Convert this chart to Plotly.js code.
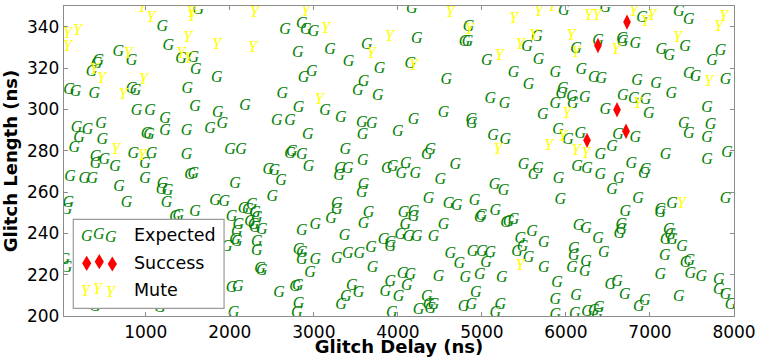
<!DOCTYPE html>
<html>
<head>
<meta charset="utf-8">
<script src="https://cdn.plot.ly/plotly-3.0.1.min.js"></script>
<style>html,body{margin:0;padding:0;background:#fff;}#chart{width:761px;height:357px;}</style>
</head>
<body>
<div id="chart"></div>
<script>
// Expected (G) points
const expectedDelay = [1197,1626,1268,673,832,435,414,355,1420,1566,1594,1844,86,164,387,832,879,1495,891,1050,1586,2182,1856,1911,1229,176,307,467,205,149,482,1010,1040,1229,1486,1765,2003,2134,852,1070,991,403,506,403,1486,634,
4166,2658,2856,2904,2995,4225,4841,4794,4830,2809,3194,3630,3412,3781,4147,5059,2876,2975,3590,3523,3761,4575,2626,2817,3134,3321,2558,2718,3571,3690,4186,4544,5100,5270,4873,4881,2928,3579,3999,5131,5278,2718,2856,2737,3373,3583,4385,4345,4683,2459,2530,2936,3313,3404,3868,3936,4095,
5973,6469,6905,7342,7461,5655,5536,6119,6381,6667,6675,6826,7136,7231,7418,7839,7739,5675,5377,5874,6183,6330,6422,5556,6846,7072,7461,7541,7899,5961,5946,6072,6223,5874,6080,6675,6806,6946,7255,5723,6469,6985,7679,5905,6024,6171,6620,6826,6548,6410,7402,7720,7461,7679,7184,7918,7679,5496,5667,6131,6251,6779,6946,
98,268,363,991,1200,1189,1260,681,1527,1566,2063,77,57,772,1248,1824,1935,1586,1348,1387,2022,2162,2261,2213,2301,2102,2241,2301,2082,2063,2082,1963,1864,2320,30,57,2022,2094,2043,395,1169,
2610,3301,4040,4207,4504,3590,3571,2507,4365,4603,4702,4913,5151,5258,3273,3273,3206,2320,2281,2380,2856,3016,3650,3590,4067,4186,4186,4087,4028,4127,4226,4425,4544,4976,4995,5159,5286,3365,3829,3909,3909,2320,2817,2856,2856,3016,3273,3404,3540,3682,2956,2360,2380,3698,4623,4730,4889,4999,5100,5048,4976,4802,4928,4782,4873,4484,5238,4055,4147,3909,4107,3849,4008,2777,2809,2587,3452,3531,3380,3325,2817,2797,3928,4345,4365,4425,4246,4385,5218,5159,
5615,5913,6410,6628,6548,6926,5934,6858,6707,7124,7124,7263,7899,5318,5377,5457,5596,5484,5417,5556,5735,5735,6151,6239,6381,6659,6659,6636,6092,6092,6239,6223,6072,6449,5893,5874,5874,6119,6104,6251,6330,6390,6369,6529,6608,6699,6866,6938,7223,7243,7263,7184,7382,7176,7422,7469,7481,7612,7124,7342,7819,7819,7899,7958];
const expectedLength = [340,348,330.7,327.8,323.3,323.6,322,318,324.5,325,319.2,315.3,309.5,308.3,307.5,310,309,310,299.2,299.2,301.2,301.4,298,292.7,295.5,291,290.2,292.7,285.9,281.5,285,287.9,287.5,289.4,289.4,290.7,280.5,280.2,278.2,278.6,273.7,276.9,275.7,273.7,277.8,272.1,
348.6,338.4,341.3,338.4,337.6,334.1,340,332.5,332.5,327.2,328.8,331.3,322.8,319.6,321.7,323.3,315.3,318,313.2,308.8,306.3,314.3,307.6,300.8,299.2,296,294.3,294.3,293.4,292.7,294.7,298.2,304.8,302.4,295,293,287.4,287.4,289,286.9,285,278.6,277.8,279.4,280.5,274.9,280.5,277.8,273.3,270.5,270,272.1,271.3,270.9,271.3,272.1,273.7,
347.6,349,344.3,347,343.3,335.2,330,329.3,333.3,334.1,332.5,331.6,328.8,325.6,330,328.1,323.2,324,317.5,317.5,319.2,315.3,314.5,311.6,313.5,312.4,316.9,315.6,314.3,310,307.5,305.9,305.6,302.7,302.7,306.3,305.2,304.7,307.2,297.1,299.5,297.6,300.8,290.2,285,288.3,287.4,285.9,281.8,277.8,293,292.3,287.9,286.3,277.8,278.9,275.7,273.3,271.3,272.1,271.3,273.7,270.5,
267.3,266.5,266.5,266.5,263.8,260.9,260.5,262.2,268.1,268.6,264.1,254.7,251.2,254.7,254.7,255.7,255.2,250.3,247.7,248.3,247.7,252,253.6,251.2,249.6,244,245.5,242.4,240.7,236.7,235.9,233.5,227.9,235.9,227,223,213.4,213.9,201.6,204.5,203.7,
265.4,267.6,268.9,268.9,265.7,263.3,259.3,257.6,256.8,254.4,253.1,255.7,263.3,260.5,254.4,251.2,246.7,247.3,244,241.5,241.2,244,249.6,244.7,249.6,250.4,247.7,244,239.1,238,238,238,244,247.2,248.3,250.9,244.8,238.6,237,235.4,233.2,231.5,231.9,230.6,227,227,227.4,230,230,232.7,220.9,222.6,221.8,223,230,225.1,231.1,231.1,230.6,225.5,219.8,218.2,211,204.5,205.3,219,218.2,220.3,219.8,216.6,214.5,211.7,209,214.2,214.5,211,214.5,211,209.3,205.3,205.8,201.3,201.6,209.3,205.3,205.3,202.9,203.5,205.3,201.6,
268.1,266.5,268.1,266.5,260.9,268.9,256.3,256.8,250.3,251.2,249.9,254.4,256.8,245.5,246.4,237.5,240.7,233.5,231.1,228.3,235.1,223,243.7,241.9,237.5,244,241.5,239.6,232.2,229,226.2,221.4,223,230.3,216.1,207.7,200.5,209.7,201,202,202.6,203.7,200.5,215,216.6,210.2,204.5,207.4,241.5,239.1,236.7,236.7,233.2,229,225.7,226.7,220.3,218.7,219.8,209.3,217.4,212.6,210.1,205.3];

// Mute (Y) points
const muteDelay = [959,1062,1542,1550,2293,69,188,69,1498,1844,2272,792,387,474,1420,1507,971,732,641,959,2904,4623,3142,3900,4850,3682,4186,5207,3063,5190,5377,5675,5834,6271,6369,6806,6946,7025,7878,7819,5615,5457,6064,6119,6596,7330,7700,6858,6012,5961,5794,6119,6239,7374,5457];
const muteLength = [349,344.3,346.8,344.6,346.5,336.5,338,330,334.4,331.2,329.8,326.9,319.2,314.8,326.9,324.5,314,306.8,280.5,277.4,347,346.5,338.9,335.2,338.4,326.9,321.2,325.6,304.7,280.5,343.8,347,349.5,345.3,345.3,347,342.2,345.3,344.9,340,335.7,330.9,335.7,327.2,328.5,334.6,313.2,302.7,297.6,286.6,282.3,279.8,278.6,254.1,224.2];

// Success (red diamonds)
const successDelay = [6727,6381,6608,6251,6715];
const successLength = [342.2,330.9,299.8,285,289.4];

const xTicks = [1000,2000,3000,4000,5000,6000,7000,8000];
const yTicks = [200,220,240,260,280,300,320,340];
const legendLabels = ['Expected','Success','Mute'];

const glyphFont = {family:'Liberation Serif', style:'italic', size:16};

const traces = [
  {x: expectedDelay, y: expectedLength, mode:'text', type:'scatter', text: expectedDelay.map(()=> 'G'),
   textposition:'middle center', textfont: Object.assign({}, glyphFont, {color:'#008000'}), hoverinfo:'skip', cliponaxis:true, showlegend:false},
  {x: successDelay, y: successLength, mode:'markers', type:'scatter',
   marker:{symbol:'diamond-tall', size:11, color:'#ff0000', line:{width:0}}, hoverinfo:'skip', showlegend:false},
  {x: muteDelay, y: muteLength, mode:'text', type:'scatter', text: muteDelay.map(()=> 'Y'),
   textposition:'middle center', textfont: Object.assign({}, glyphFont, {color:'#ffff00'}), hoverinfo:'skip', cliponaxis:true, showlegend:false}
];

// manual legend (paper coords)
const L = 64, R = 733.7, T = 6, B = 316;
const px = v => (v - L) / (R - L);
const py = v => (B - v) / (B - T);
const shapes = [
  {type:'rect', xref:'paper', yref:'paper', x0:px(73.3), x1:px(224), y0:py(308.3), y1:py(219.3),
   fillcolor:'#ffffff', line:{color:'#9a9a9a', width:1.2}, layer:'above'}
];
const dia = [[86.7,263.3],[99.3,261.7],[112.3,264]];
dia.forEach(([cx,cy])=>{
  const hw = 4.6, hh = 7.6;
  shapes.push({type:'path', xref:'paper', yref:'paper', layer:'above',
    path:`M ${px(cx)},${py(cy-hh)} L ${px(cx+hw)},${py(cy)} L ${px(cx)},${py(cy+hh)} L ${px(cx-hw)},${py(cy)} Z`,
    fillcolor:'#ff0000', line:{width:0}});
});
const annotations = [];
[[86.7,235],[99.3,233.3],[111,236]].forEach(([cx,cy])=>annotations.push({xref:'paper',yref:'paper',x:px(cx),y:py(cy),text:'G',showarrow:false,xanchor:'center',yanchor:'middle',font:Object.assign({},glyphFont,{color:'#008000'})}));
[[86,290],[98.3,288.3],[111.7,291.7]].forEach(([cx,cy])=>annotations.push({xref:'paper',yref:'paper',x:px(cx),y:py(cy),text:'Y',showarrow:false,xanchor:'center',yanchor:'middle',font:Object.assign({},glyphFont,{color:'#ffff00'})}));
[[235],[263.3],[290]].forEach(([cy],i)=>annotations.push({xref:'paper',yref:'paper',x:px(131.5),y:py(cy),text:legendLabels[i],showarrow:false,xanchor:'left',yanchor:'middle',font:{family:'DejaVu Sans',size:17.5,color:'#000'}}));

const axisCommon = {showgrid:false, zeroline:false, showline:true, linecolor:'#8c8c8c', linewidth:1.2, mirror:'ticks',
  ticks:'inside', ticklen:4, tickcolor:'#8c8c8c', tickwidth:1, tickfont:{family:'DejaVu Sans', size:17, color:'#000'}};

const layout = {
  width:761, height:357, margin:{l:64, r:27, t:6, b:41, pad:0},
  paper_bgcolor:'#fff', plot_bgcolor:'#fff', showlegend:false,
  xaxis: Object.assign({}, axisCommon, {range:[27,8000], tickvals:xTicks, ticktext:xTicks.map(String),
    title:{text:'<b>Glitch Delay (ns)</b>', font:{family:'DejaVu Sans', size:18, color:'#000'}, standoff:2}}),
  yaxis: Object.assign({}, axisCommon, {range:[200,350], tickvals:yTicks, ticktext:yTicks.map(String),
    title:{text:'<b>Glitch Length (ns)</b>', font:{family:'DejaVu Sans', size:18, color:'#000'}, standoff:6}}),
  shapes: shapes, annotations: annotations
};

Plotly.newPlot('chart', traces, layout, {staticPlot:true, displayModeBar:false});
</script>
</body>
</html>
